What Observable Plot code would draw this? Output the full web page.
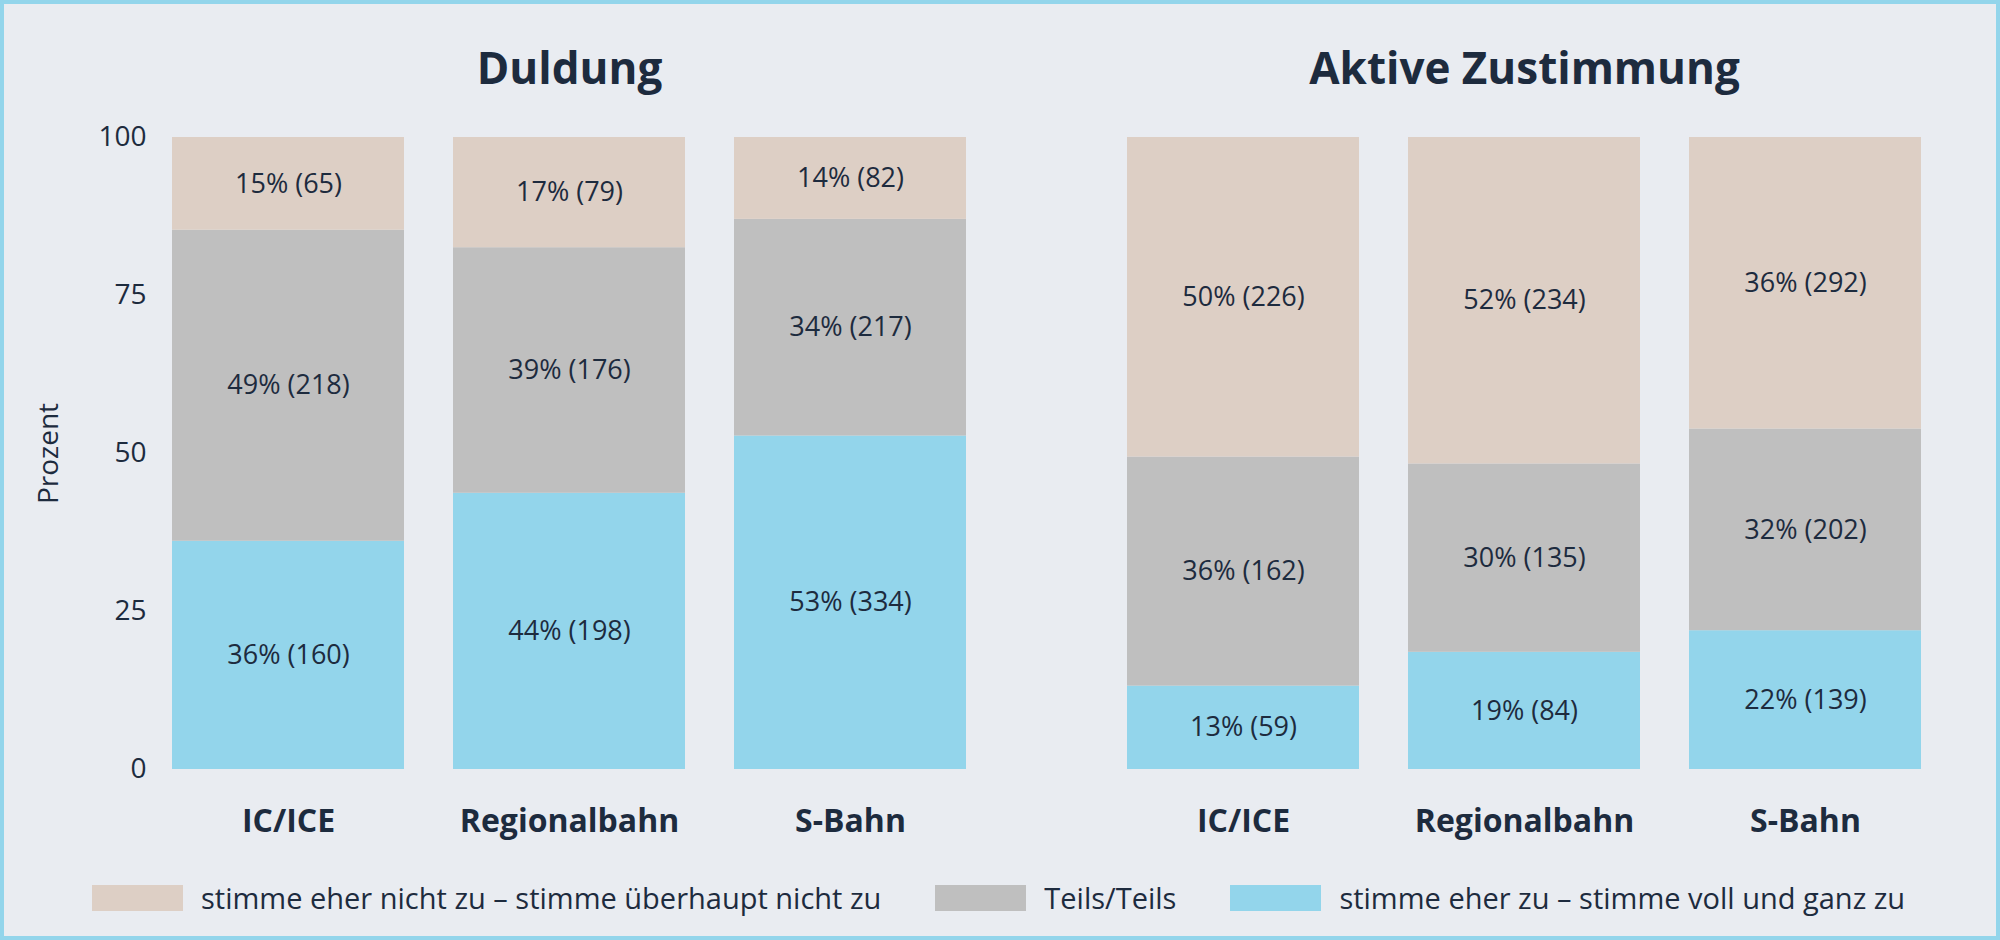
<!DOCTYPE html>
<html>
<head>
<meta charset="utf-8">
<script src="https://cdn.jsdelivr.net/npm/d3@7"></script>
<script src="https://cdn.jsdelivr.net/npm/@observablehq/plot@0.6"></script>
<style>
  html, body { margin: 0; padding: 0; background: #e9ecf1; }
  #frame {
    box-sizing: border-box; width: 2000px; height: 940px;
    border: 4px solid #93d5eb; background: #e9ecf1;
    font-family: "Open Sans", sans-serif; color: #1d2b3e; overflow: hidden;
  }
  #legend { display: flex; align-items: center; margin-top: 28px; padding-left: 88px; font-size: 29px; }
  .item { display: flex; align-items: center; margin-right: 54px; }
  .sw { width: 91px; height: 26px; margin-right: 18px; }
</style>
</head>
<body>
<div id="frame"><div id="chart"></div><div id="legend"></div></div>
<script>
const panels = ["Duldung", "Aktive Zustimmung"];
const categories = ["IC/ICE", "Regionalbahn", "S-Bahn"];
const answers = [
  "stimme eher nicht zu – stimme überhaupt nicht zu",
  "Teils/Teils",
  "stimme eher zu – stimme voll und ganz zu"
];
const colors = ["#ddcfc5", "#bfbfbf", "#93d5eb"];

// counts (n) and printed percentages per category (IC/ICE, Regionalbahn, S-Bahn)
const duldungAblehnungN = [65, 79, 82];
const duldungTeilsN = [218, 176, 217];
const duldungZustimmungN = [160, 198, 334];
const duldungAblehnungPct = [15, 17, 14];
const duldungTeilsPct = [49, 39, 34];
const duldungZustimmungPct = [36, 44, 53];

const aktivAblehnungN = [226, 234, 292];
const aktivTeilsN = [162, 135, 202];
const aktivZustimmungN = [59, 84, 139];
const aktivAblehnungPct = [50, 52, 36];
const aktivTeilsPct = [36, 30, 32];
const aktivZustimmungPct = [13, 19, 22];

const rows = [];
function add(panel, answer, ns, pcts) {
  categories.forEach((c, i) => rows.push({panel, cat: c, answer, n: ns[i], label: `${pcts[i]}% (${ns[i]})`}));
}
// stacking order bottom → top
add(panels[0], answers[2], duldungZustimmungN, duldungZustimmungPct);
add(panels[0], answers[1], duldungTeilsN, duldungTeilsPct);
add(panels[0], answers[0], duldungAblehnungN, duldungAblehnungPct);
add(panels[1], answers[2], aktivZustimmungN, aktivZustimmungPct);
add(panels[1], answers[1], aktivTeilsN, aktivTeilsPct);
add(panels[1], answers[0], aktivAblehnungN, aktivAblehnungPct);

const ink = "#1d2b3e";
const chart = Plot.plot({
  width: 1992, height: 846,
  marginTop: 133, marginBottom: 81, marginLeft: 117, marginRight: 24,
  style: {background: "transparent", fontFamily: "Open Sans", color: ink, overflow: "visible"},
  fx: {domain: panels, paddingInner: 0.0638, paddingOuter: 0, label: null},
  x: {domain: categories, padding: 0.174, label: null},
  y: {domain: [0, 1], label: "Prozent"},
  color: {domain: answers, range: colors},
  marks: [
    Plot.barY(rows, Plot.stackY({fx: "panel", x: "cat", y: "n", z: "answer", fill: "answer", offset: "normalize"})),
    Plot.text(rows, Plot.stackY({fx: "panel", x: "cat", y: "n", z: "answer", text: "label", offset: "normalize", fontSize: 27, fill: ink})),
    Plot.axisFx({anchor: "top", tickSize: 0, tickPadding: 54, fontSize: 44, fontWeight: "bold", label: null}),
    Plot.axisX({tickSize: 0, tickPadding: 40, fontSize: 32, fontWeight: "bold", label: null}),
    Plot.axisY({ticks: [0, 0.25, 0.5, 0.75, 1], tickFormat: d => Math.round(d * 100), tickSize: 0, tickPadding: -24,
      fontSize: 28, label: "Prozent", labelAnchor: "center", labelArrow: "none", labelOffset: 84})
  ]
});
document.getElementById("chart").append(chart);

const legend = document.getElementById("legend");
answers.forEach((a, i) => {
  const it = document.createElement("div"); it.className = "item";
  const sw = document.createElement("div"); sw.className = "sw"; sw.style.background = colors[i];
  const tx = document.createElement("span"); tx.textContent = a;
  it.append(sw, tx); legend.append(it);
});
</script>
</body>
</html>
